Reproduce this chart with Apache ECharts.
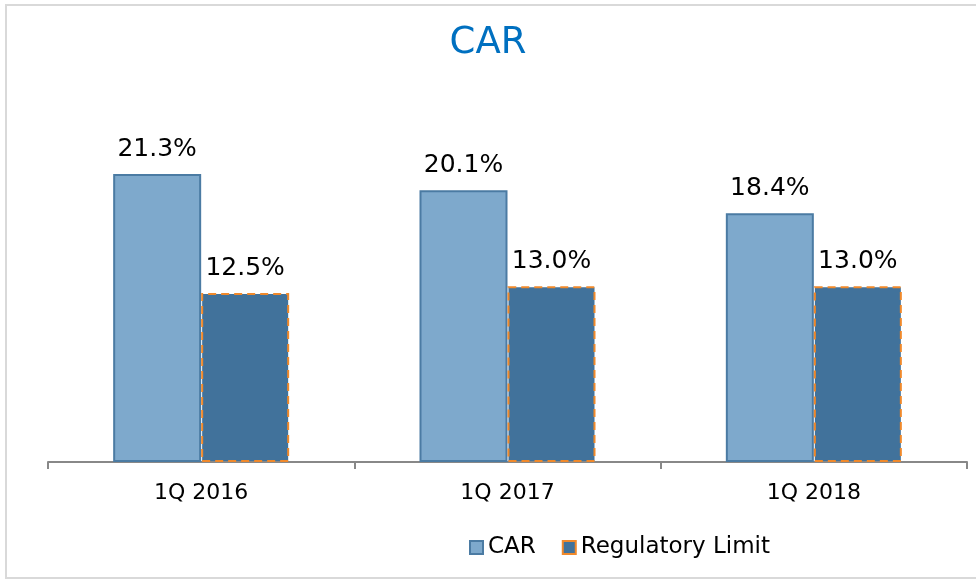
<!DOCTYPE html>
<html>
<head>
<meta charset="UTF-8">
<script src="https://cdn.jsdelivr.net/npm/echarts@6/dist/echarts.min.js"></script>
<style>
  html, body { margin: 0; padding: 0; background: #fff; }
  #chart { width: 976px; height: 579px; }
</style>
</head>
<body>
<div id="chart"></div>
<script>
  // values
  const categories = ['1Q 2016', '1Q 2017', '1Q 2018'];
  const carValues = [21.3, 20.1, 18.4];
  const limitValues = [12.5, 13.0, 13.0];

  const font = 'DejaVu Sans';
  const chart = echarts.init(document.getElementById('chart'));

  const labelStyle = {
    show: true,
    position: 'top',
    distance: 12,
    color: '#000',
    fontFamily: font,
    fontSize: 25,
    formatter: p => p.value.toFixed(1) + '%'
  };

  chart.setOption({
    animation: false,
    backgroundColor: '#fff',
    title: {
      text: 'CAR',
      left: 'center',
      top: 20,
      textStyle: { color: '#0070C0', fontFamily: font, fontSize: 37, fontWeight: 'normal' }
    },
    graphic: [{
      type: 'rect',
      shape: { x: 6, y: 5, width: 990, height: 573 },
      style: { fill: 'none', stroke: '#d9d9d9', lineWidth: 2 },
      silent: true,
      z: -1
    }],
    legend: {
      top: 531,
      left: 464,
      icon: 'rect',
      itemWidth: 13,
      itemHeight: 13,
      itemGap: 26,
      textStyle: { fontFamily: font, fontSize: 23, color: '#000' },
      data: ['CAR', 'Regulatory Limit']
    },
    grid: { left: 48, right: 9, top: 124, bottom: 117 },
    xAxis: {
      type: 'category',
      data: categories,
      axisLine: { lineStyle: { color: '#888', width: 2 } },
      axisTick: { show: true, length: 7, lineStyle: { color: '#888', width: 2 } },
      axisLabel: { color: '#000', fontFamily: font, fontSize: 22, margin: 20 }
    },
    yAxis: {
      type: 'value',
      min: 0,
      max: 25,
      show: false,
      splitLine: { show: false }
    },
    series: [
      {
        name: 'CAR',
        type: 'bar',
        data: carValues,
        barWidth: 88,
        barGap: '0%',
        itemStyle: { color: '#7EA9CC', borderColor: '#4B7BA3', borderWidth: 2 },
        label: labelStyle
      },
      {
        name: 'Regulatory Limit',
        type: 'bar',
        data: limitValues,
        barWidth: 88,
        itemStyle: { color: '#41729B', borderColor: '#F0892B', borderWidth: 2, borderType: [8, 5] },
        label: labelStyle
      }
    ]
  });
</script>
</body>
</html>
